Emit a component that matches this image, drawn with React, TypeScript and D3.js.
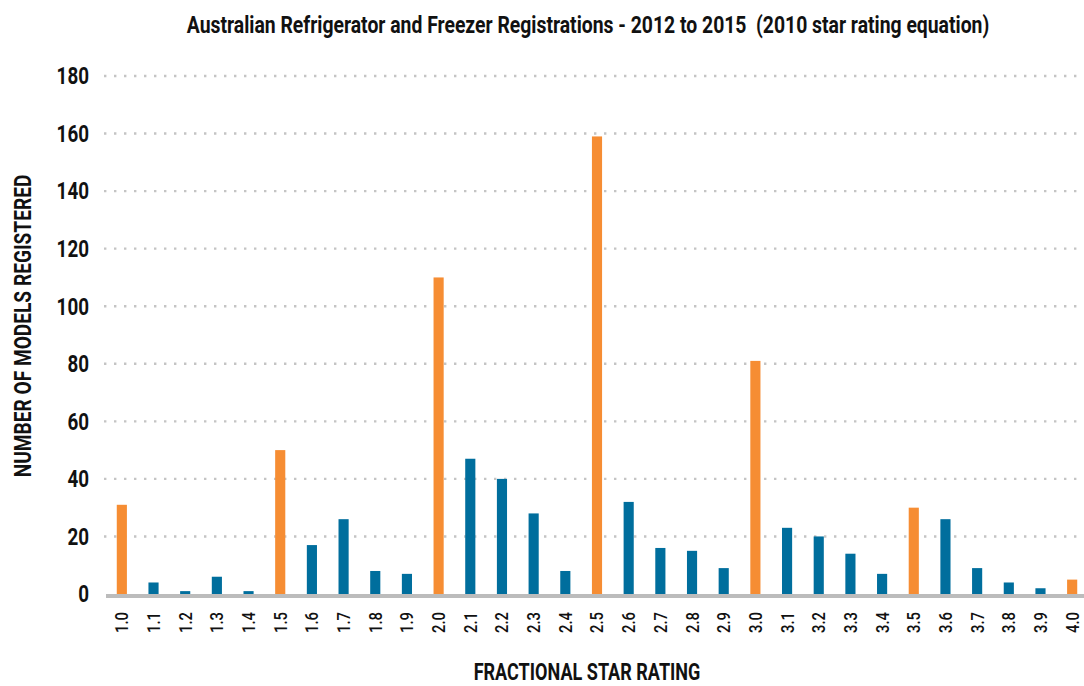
import React, { useEffect, useRef } from "react";
import * as d3 from "d3";

// star ratings (x categories) and number of models registered
const ratings = [
  "1.0", "1.1", "1.2", "1.3", "1.4", "1.5", "1.6", "1.7", "1.8", "1.9",
  "2.0", "2.1", "2.2", "2.3", "2.4", "2.5", "2.6", "2.7", "2.8", "2.9",
  "3.0", "3.1", "3.2", "3.3", "3.4", "3.5", "3.6", "3.7", "3.8", "3.9", "4.0",
];
const models = [
  31, 4, 1, 6, 1, 50, 17, 26, 8, 7,
  110, 47, 40, 28, 8, 159, 32, 16, 15, 9,
  81, 23, 20, 14, 7, 30, 26, 9, 4, 2, 5,
];
// whole and half star ratings are highlighted
const halfStars = ["1.0", "1.5", "2.0", "2.5", "3.0", "3.5", "4.0"];
const yTicks = [0, 20, 40, 60, 80, 100, 120, 140, 160, 180];

const title = "Australian Refrigerator and Freezer Registrations - 2012 to 2015  (2010 star rating equation)";
const xTitle = "FRACTIONAL STAR RATING";
const yTitle = "NUMBER OF MODELS REGISTERED";

const W = 1084;
const H = 686;
const font = "Roboto, 'DejaVu Sans', sans-serif";

// no condensed face is installed: squeeze a text horizontally to a width
const squeeze = (base: string, target: (d: any) => number) =>
  function (this: SVGTextElement, d: any) {
    const k = target(d) / this.getComputedTextLength();
    d3.select(this).attr("transform", `${base} scale(${k},1)`);
  };

const App = () => {
  const ref = useRef<SVGSVGElement>(null);

  useEffect(() => {
    const svg = d3.select(ref.current);
    svg.selectAll("*").remove();

    const x = d3
      .scaleBand()
      .domain(ratings)
      .range([106, 1088])
      .paddingInner(0.68)
      .paddingOuter(0.34);
    const y = d3.scaleLinear().domain([0, 180]).range([594, 76]);

    // dotted gridlines
    svg
      .append("g")
      .selectAll("line")
      .data(yTicks.filter((d) => d > 0))
      .enter()
      .append("line")
      .attr("x1", 104)
      .attr("x2", W)
      .attr("y1", (d) => y(d))
      .attr("y2", (d) => y(d))
      .attr("stroke", "#c4c4c4")
      .attr("stroke-width", 2.4)
      .attr("stroke-dasharray", "2.4 7.6");

    // y tick labels
    svg
      .append("g")
      .selectAll("text")
      .data(yTicks)
      .enter()
      .append("text")
      .attr("dy", "0.36em")
      .attr("text-anchor", "end")
      .attr("font-family", font)
      .attr("font-size", 23)
      .attr("font-weight", "bold")
      .attr("fill", "#111")
      .text((d) => d)
      .each(function (d) {
        squeeze(`translate(89,${y(d)})`, (v) => String(v).length * 10.8).call(this, d);
      });

    // bars
    svg
      .append("g")
      .selectAll("rect")
      .data(ratings)
      .enter()
      .append("rect")
      .attr("x", (d) => x(d)!)
      .attr("width", x.bandwidth())
      .attr("y", (d, i) => y(models[i]))
      .attr("height", (d, i) => y(0) - y(models[i]))
      .attr("fill", (d) => (halfStars.includes(d) ? "#f68d33" : "#006e9d"));

    // baseline
    svg
      .append("line")
      .attr("x1", 106)
      .attr("x2", W)
      .attr("y1", y(0) + 2)
      .attr("y2", y(0) + 2)
      .attr("stroke", "#bcbcbc")
      .attr("stroke-width", 4);

    // x tick labels, rotated
    svg
      .append("g")
      .selectAll("text")
      .data(ratings)
      .enter()
      .append("text")
      .attr("dy", "0.36em")
      .attr("text-anchor", "end")
      .attr("font-family", font)
      .attr("font-size", 18)
      .attr("font-weight", 500)
      .attr("fill", "#111")
      .text((d) => d)
      .each(function (d) {
        squeeze(
          `translate(${x(d)! + x.bandwidth() / 2},612) rotate(-90)`,
          () => 21
        ).call(this, d);
      });

    svg
      .append("text")
      .attr("text-anchor", "middle")
      .attr("font-family", font)
      .attr("font-size", 23)
      .attr("font-weight", "bold")
      .attr("fill", "#111")
      .style("white-space", "pre")
      .text(title)
      .each(squeeze("translate(588,33)", () => 803));

    svg
      .append("text")
      .attr("text-anchor", "middle")
      .attr("font-family", font)
      .attr("font-size", 23)
      .attr("font-weight", "bold")
      .attr("fill", "#111")
      .text(xTitle)
      .each(squeeze("translate(587,680)", () => 227));

    svg
      .append("text")
      .attr("text-anchor", "middle")
      .attr("font-family", font)
      .attr("font-size", 23)
      .attr("font-weight", "bold")
      .attr("fill", "#111")
      .text(yTitle)
      .each(squeeze("translate(31,326) rotate(-90)", () => 303));
  }, []);

  return (
    <svg
      ref={ref}
      width={W}
      height={H}
      style={{ position: "absolute", left: 0, top: 0, background: "#fff" }}
    />
  );
};

export default App;
